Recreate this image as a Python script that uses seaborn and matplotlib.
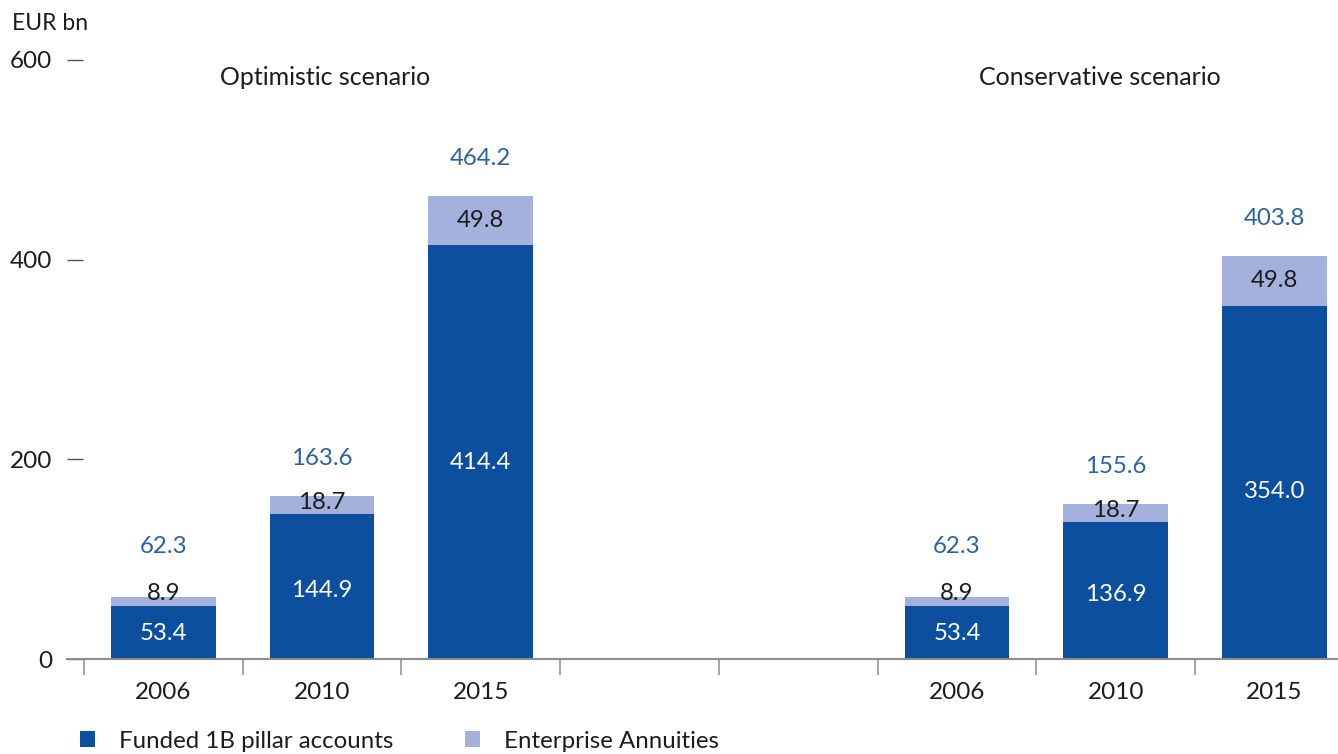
import matplotlib
matplotlib.use("Agg")
import matplotlib.pyplot as plt
from matplotlib.patches import Patch
import seaborn as sns
import pandas as pd

# ---- data -------------------------------------------------------------
years = ["2006", "2010", "2015"]
scenarios = ["Optimistic scenario", "Conservative scenario"]
funded_optimistic = [53.4, 144.9, 414.4]
annuities_optimistic = [8.9, 18.7, 49.8]
funded_conservative = [53.4, 136.9, 354.0]
annuities_conservative = [8.9, 18.7, 49.8]
y_ticks = [0, 200, 400, 600]
series_names = ["Funded 1B pillar accounts", "Enterprise Annuities"]
unit_label = "EUR bn"

# ---- styling ----------------------------------------------------------
DARK = "#0b4f9e"
LIGHT = "#a3b1dc"
TOTAL_BLUE = "#2a62a6"
TEXT = "#1c1c1c"
AXIS_GREY = "#8c8c8c"
FS_TICK = 17.5
FS_VALUE = 17.3

sns.set_theme(style="white")
plt.rcParams["font.family"] = ["Lato", "DejaVu Sans"]

# two groups of three slots with an empty gap of two slots between them
group_offsets = [0, 5]
rows = []
for scen, off, fund, ann in zip(
    scenarios, group_offsets,
    [funded_optimistic, funded_conservative],
    [annuities_optimistic, annuities_conservative],
):
    for i, (yr, f, a) in enumerate(zip(years, fund, ann)):
        rows.append({"pos": off + i, "year": yr, "scenario": scen,
                     "funded": f, "annuity": a, "total": round(f + a, 1)})
df = pd.DataFrame(rows)

fig = plt.figure(figsize=(13.38, 7.54), dpi=100)
ax = fig.add_axes([67 / 1338, 1 - 659 / 754, 1 - 67 / 1338, (659 - 60) / 754])

bar_w = 0.66
# stacked bars: full height in light blue, funded part on top in dark blue
sns.barplot(data=df, x="pos", y="total", native_scale=True, width=bar_w,
            color=LIGHT, saturation=1, errorbar=None, ax=ax)
sns.barplot(data=df, x="pos", y="funded", native_scale=True, width=bar_w,
            color=DARK, saturation=1, errorbar=None, ax=ax)
for p in ax.patches:
    p.set_linewidth(0)

ax.set_xlim(-0.607, 7.40)
ax.set_ylim(0, 600)
ax.set_xlabel("")
ax.set_ylabel("")

# value labels
for _, r in df.iterrows():
    ax.text(r.pos, r.funded * 0.475, f"{r.funded:.1f}", ha="center",
            va="center", color="white", fontsize=FS_VALUE)
    ann_y = max(r.funded + r.annuity / 2, r.funded + 12)
    ax.text(r.pos, ann_y, f"{r.annuity:.1f}", ha="center", va="center",
            color=TEXT, fontsize=FS_VALUE)
    off = 37 if r.annuity > 10 else 50
    ax.text(r.pos, r.total + off, f"{r.total:.1f}", ha="center",
            va="center", color=TOTAL_BLUE, fontsize=FS_VALUE)

# scenario headings
ax.text(1.02, 582, scenarios[0], ha="center", va="center", color=TEXT,
        fontsize=18, clip_on=False)
ax.text(5.9, 582, scenarios[1], ha="center", va="center", color=TEXT,
        fontsize=18, clip_on=False)

# spines and ticks
for s in ["top", "right", "left"]:
    ax.spines[s].set_visible(False)
ax.spines["bottom"].set_color(AXIS_GREY)
ax.spines["bottom"].set_linewidth(1.5)

slot_edges = [k - 0.5 for k in range(8)]
ax.set_xticks(slot_edges)
ax.set_xticklabels([""] * len(slot_edges))
ax.set_xticks(df["pos"].tolist(), minor=True)
ax.set_xticklabels(df["year"].tolist(), minor=True)
ax.tick_params(axis="x", which="major", direction="out", length=11.5,
               width=1.1, color=AXIS_GREY, bottom=True)
ax.tick_params(axis="x", which="minor", length=0, pad=16.5, labelsize=FS_TICK,
               labelcolor=TEXT, bottom=True)

ax.set_yticks(y_ticks)
ax.set_yticklabels([str(v) for v in y_ticks])
ax.tick_params(axis="y", direction="in", length=11.5, width=1.0,
               color="#555555", pad=10.8, labelsize=FS_TICK, labelcolor=TEXT,
               left=True)
ax.grid(False)

fig.text(12 / 1338, 1 - 23 / 754, unit_label, ha="left", va="center",
         color=TEXT, fontsize=16.5)

handles = [Patch(facecolor=DARK, edgecolor="none"),
           Patch(facecolor=LIGHT, edgecolor="none")]
fig.legend(handles, series_names, loc="center left",
           bbox_to_anchor=(80 / 1338, 1 - 741 / 754), ncol=2, frameon=False,
           fontsize=17.3, handlelength=0.62, handleheight=0.62,
           handletextpad=1.0, columnspacing=3.0, borderpad=0,
           borderaxespad=0, labelcolor=TEXT)

fig.savefig("out.png", dpi=100)
